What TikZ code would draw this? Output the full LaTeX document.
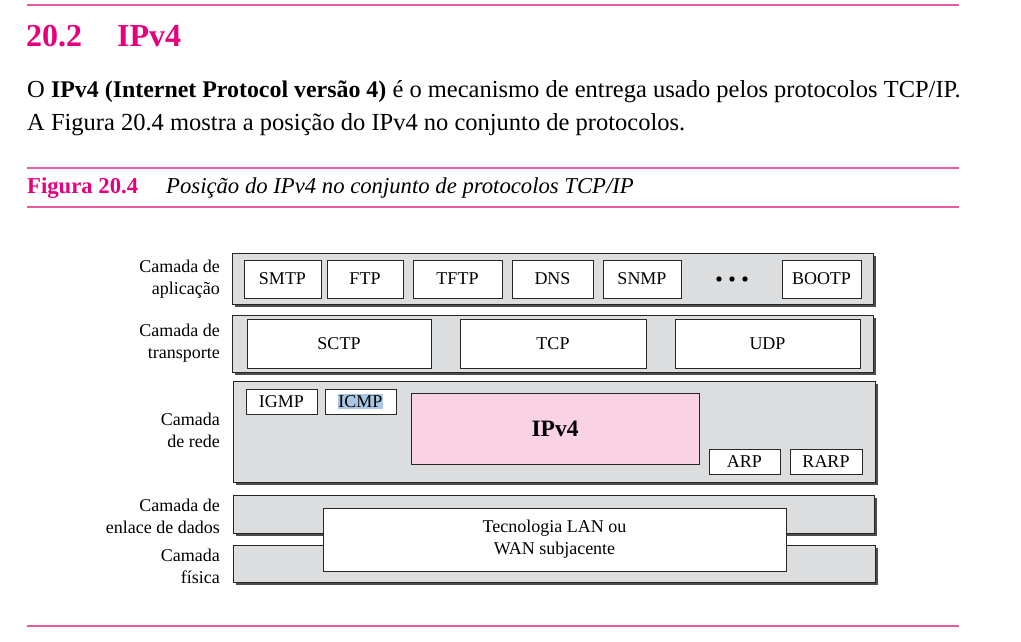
\documentclass[tikz,border=0pt]{standalone}
\usepackage{fontspec}
\setmainfont{Liberation Serif}
\usetikzlibrary{shadows, positioning}

\definecolor{titlemagenta}{HTML}{E6007E}
\definecolor{rulepink}{HTML}{E95BA1}
\definecolor{layergray}{HTML}{DCDDDF}
\definecolor{ippink}{HTML}{F9D3E4}
\definecolor{selblue}{HTML}{A7C7E2}

\newcommand{\protofont}{\fontsize{18}{22}\selectfont}
\newcommand{\bodyfont}{\fontsize{24.5}{33}\selectfont}
\newcommand{\bodybold}{\fontsize{23.9}{33}\selectfont\bfseries}
\newcommand{\capfont}{\fontsize{22.7}{28}\selectfont}

\tikzset{
  layer/.style={draw=black!85, fill=layergray, line width=0.9pt, inner sep=0pt, outer sep=0pt,
    drop shadow={shadow xshift=3pt, shadow yshift=-3pt, fill=black!70, opacity=1}},
  proto/.style={draw=black!85, fill=white, line width=0.9pt, inner sep=0pt, outer sep=0pt, font=\protofont},
  laylabel/.style={anchor=east, align=right, inner sep=0pt, font=\protofont},
  pinkrule/.style={draw=rulepink, line width=1.6pt},
  txt/.style={anchor=base west, inner sep=0pt}
}

\begin{document}
\begin{tikzpicture}[x=1pt, y=-1pt]
\useasboundingbox (0,0) rectangle (1021,642);

% page header
\draw[pinkrule] (27,5) -- (959,5);
\node[txt, font=\fontsize{32}{38}\selectfont\bfseries, text=titlemagenta] (secnum) at (26,47) {20.2};
\node[txt, font=\fontsize{32}{38}\selectfont\bfseries, text=titlemagenta] (sectitle) at (117,47) {IPv4};
\node[txt, font=\bodyfont] (body1) at (27,98) {O {\bodybold IPv4 (Internet Protocol versão 4)} é o mecanismo de entrega usado pelos protocolos TCP/IP.};
\node[txt, font=\bodyfont] (body2) at (27,131) {A Figura 20.4 mostra a posição do IPv4 no conjunto de protocolos.};

% caption
\draw[pinkrule] (27,168) -- (959,168);
\node[txt, font=\capfont\bfseries, text=titlemagenta] (fignum) at (27,193) {Figura 20.4};
\node[txt, font=\capfont\itshape] (figcap) at (166,193) {Posição do IPv4 no conjunto de protocolos TCP/IP};
\draw[pinkrule] (27,207) -- (959,207);

% application layer
\node[layer, minimum width=641pt, minimum height=51pt] (app) at (552.5,278.5) {};
\node[proto, minimum width=77pt, minimum height=38pt] (smtp) at (282.5,279) {SMTP};
\node[proto, minimum width=76pt, minimum height=38pt] (ftp) at (365,279) {FTP};
\node[proto, minimum width=89pt, minimum height=38pt] (tftp) at (457.5,279) {TFTP};
\node[proto, minimum width=81pt, minimum height=38pt] (dns) at (552.5,279) {DNS};
\node[proto, minimum width=78pt, minimum height=38pt] (snmp) at (642,279) {SNMP};
\foreach \dx in {719,732,745}
  \fill (\dx,279) circle (2.7pt);
\node[proto, minimum width=79pt, minimum height=38pt] (bootp) at (821.5,279) {BOOTP};

% transport layer
\node[layer, minimum width=641pt, minimum height=57pt] (transp) at (552.5,343.5) {};
\node[proto, minimum width=184pt, minimum height=49pt] (sctp) at (339,343.5) {SCTP};
\node[proto, minimum width=186pt, minimum height=49pt] (tcp) at (553,343.5) {TCP};
\node[proto, minimum width=185pt, minimum height=49pt] (udp) at (767.5,343.5) {UDP};

% network layer
\node[layer, minimum width=642pt, minimum height=101pt] (net) at (554,431.5) {};
\node[proto, minimum width=71pt, minimum height=25pt] (igmp) at (281.5,401.5) {IGMP};
\node[proto, minimum width=71pt, minimum height=25pt] (icmp) at (360.5,401.5) {};
\node[fill=selblue, inner xsep=0.5pt, inner ysep=1pt, font=\protofont] (icmptxt) at (icmp) {ICMP};
\node[proto, fill=ippink, minimum width=288pt, minimum height=71pt, font=\fontsize{23.5}{28}\selectfont\bfseries] (ipv4) at (555,428.5) {IPv4};
\node[proto, minimum width=71pt, minimum height=25pt] (arp) at (744.5,461.5) {ARP};
\node[proto, minimum width=72pt, minimum height=25pt] (rarp) at (826,461.5) {RARP};

% data link and physical layers
\node[layer, minimum width=641pt, minimum height=38pt] (link) at (553.5,514) {};
\node[layer, minimum width=642pt, minimum height=37pt] (phys) at (554,563.5) {};
\node[proto, minimum width=463pt, minimum height=63pt, align=center] (lan) at (554.5,539.5) {Tecnologia LAN ou\\WAN subjacente};

% layer names
\node[laylabel] (lapp) at (220,279) {Camada de\\aplicação};
\node[laylabel] (ltransp) at (220,343.5) {Camada de\\transporte};
\node[laylabel] (lnet) at (220,430.5) {Camada\\de rede};
\node[laylabel] (llink) at (220,516.5) {Camada de\\enlace de dados};
\node[laylabel] (lphys) at (220,566) {Camada\\física};

\draw[pinkrule] (27,626) -- (959,626);
\end{tikzpicture}
\end{document}
